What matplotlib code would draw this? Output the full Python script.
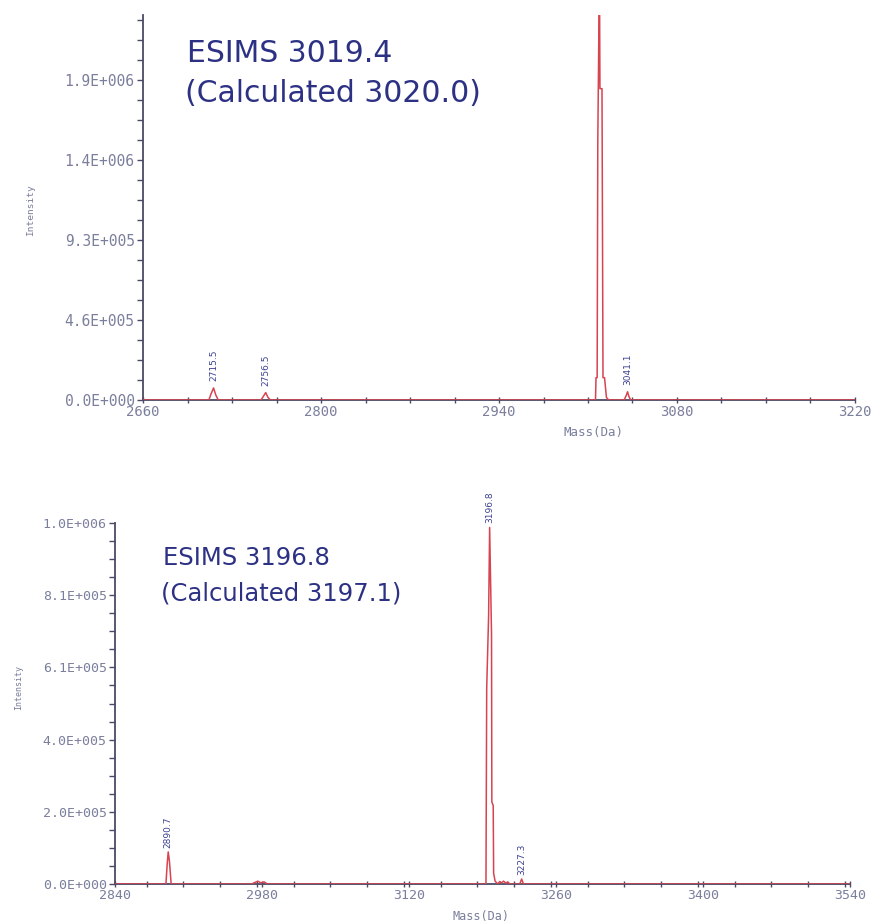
import matplotlib
matplotlib.use("Agg")
import matplotlib.pyplot as plt
from matplotlib.ticker import FixedLocator, MultipleLocator

# ---------------- data ----------------
# top spectrum (mass in Da, intensity in counts) – trace vertices
top_mass = [2660, 2711.8, 2713.5, 2715.5, 2717.2, 2719.2,
            2752.8, 2754.6, 2756.5, 2758.3, 2760.2,
            3015.9, 3016.3, 3017.2, 3017.7, 3019.0, 3019.4, 3021.0, 3021.8, 3023.0, 3024.5, 3026.2,
            3038.4, 3040.0, 3041.1, 3042.2, 3043.6, 3220]
top_intensity = [0, 0, 3.5e4, 7.0e4, 3.0e4, 0,
                 0, 2.0e4, 4.3e4, 1.5e4, 0,
                 0, 1.3e5, 1.3e5, 1.5e6, 2.5e6, 1.81e6, 1.81e6, 1.3e5, 1.3e5, 1.5e4, 0,
                 0, 2.5e4, 4.8e4, 2.0e4, 0, 0]
top_peak_labels = ["2715.5", "2756.5", "3041.1"]
top_xticks = [2660, 2800, 2940, 3080, 3220]
top_yticks = [0, 4.65e5, 9.3e5, 1.395e6, 1.86e6]
top_ytick_labels = ["0.0E+000", "4.6E+005", "9.3E+005", "1.4E+006", "1.9E+006"]
top_title = ["ESIMS 3019.4", "(Calculated 3020.0)"]

# bottom spectrum
bottom_mass = [2840, 2888.5, 2889.8, 2890.7, 2891.8, 2893.5,
               2970, 2973, 2976, 2979, 2982, 2985,
               3193.3, 3194.0, 3195.8, 3196.8, 3198.6, 3198.9, 3200.2, 3200.6, 3202.0,
               3204.5, 3206.5, 3208.0, 3210.0, 3212.5, 3214.0, 3216.0,
               3225.5, 3227.3, 3229.0, 3540]
bottom_intensity = [0, 0, 6.0e4, 9.0e4, 6.5e4, 0,
                    0, 4e3, 8e3, 3e3, 6e3, 0,
                    0, 5.5e5, 7.5e5, 1.0e6, 7.0e5, 2.3e5, 2.2e5, 3.0e4, 8e3,
                    0, 7e3, 3e3, 8e3, 2e3, 6e3, 0,
                    0, 1.4e4, 0, 0]
bottom_peak_labels = ["2890.7", "3196.8", "3227.3"]
bottom_xticks = [2840, 2980, 3120, 3260, 3400, 3540]
bottom_yticks = [0, 2.025e5, 4.05e5, 6.075e5, 8.1e5, 1.0125e6]
bottom_ytick_labels = ["0.0E+000", "2.0E+005", "4.0E+005", "6.1E+005", "8.1E+005", "1.0E+006"]
bottom_title = ["ESIMS 3196.8", "(Calculated 3197.1)"]

x_label = "Mass(Da)"
y_label = "Intensity"

# ---------------- style ----------------
W, H = 873, 922
fig = plt.figure(figsize=(W / 100, H / 100), dpi=100)
fig.patch.set_facecolor("white")

def fx(px):
    return px / W

def fy(py):
    return 1 - py / H

AX_COL = "#4a4a66"
TICK_TXT = "#7a7f9c"
RED = "#d8434f"
NAVY = "#2c3183"
LBL = "#3d4290"


def style_axes(ax, xlim, ylim, xticks, yticks, ylabels, xminor, ylabelsize, xlabelsize):
    ax.set_xlim(*xlim)
    ax.set_ylim(*ylim)
    for s in ("top", "right"):
        ax.spines[s].set_visible(False)
    for s in ("left", "bottom"):
        ax.spines[s].set_color(AX_COL)
        ax.spines[s].set_linewidth(1.3)
    ax.xaxis.set_major_locator(FixedLocator(xticks))
    ax.xaxis.set_minor_locator(MultipleLocator(xminor))
    ax.yaxis.set_major_locator(FixedLocator(yticks))
    ax.set_yticklabels(ylabels)
    ax.yaxis.set_minor_locator(MultipleLocator(yticks[1] / 4))
    ax.set_xticklabels([str(t) for t in xticks])
    ax.tick_params(axis="y", which="both", length=4, width=1, color=AX_COL,
                   labelsize=ylabelsize, labelcolor=TICK_TXT, pad=2)
    ax.tick_params(axis="x", which="both", direction="inout", length=5, width=1,
                   color=AX_COL, labelsize=xlabelsize, labelcolor=TICK_TXT, pad=1)
    for t in ax.get_yticklabels() + ax.get_xticklabels():
        t.set_family("DejaVu Sans Mono")
    ax.set_facecolor("white")


def label_peaks(ax, mass, inten, labels, offset):
    for lab in labels:
        m = float(lab)
        h = max(i for x, i in zip(mass, inten) if abs(x - m) <= 3.0)
        ax.annotate(lab, xy=(m, h), xytext=(0, offset), textcoords="offset points",
                    rotation=90, ha="center", va="bottom", fontsize=6.5,
                    color=LBL, family="DejaVu Sans")


# top panel
ax1 = fig.add_axes([fx(143), fy(400), fx(855) - fx(143), fy(15) - fy(400)])
style_axes(ax1, (2660, 3220), (0, 2.238e6), top_xticks, top_yticks, top_ytick_labels,
           35, 10.5, 10)
ax1.plot(top_mass, top_intensity, color=RED, lw=1.1, zorder=5)
label_peaks(ax1, top_mass, top_intensity, top_peak_labels, 5)

fig.text(fx(187), fy(62), top_title[0], fontsize=21.5, color=NAVY, va="baseline", ha="left")
fig.text(fx(185), fy(102), top_title[1], fontsize=21.5, color=NAVY, va="baseline", ha="left")
fig.text(fx(594), fy(432), x_label, fontsize=9, color=TICK_TXT, ha="center", va="center",
         family="DejaVu Sans Mono")
fig.text(fx(31), fy(210), y_label, fontsize=6.8, color=TICK_TXT, ha="center", va="center",
         rotation=90, family="DejaVu Sans Mono")

# bottom panel
ax2 = fig.add_axes([fx(115), fy(884), fx(850) - fx(115), fy(523) - fy(884)])
style_axes(ax2, (2840, 3540), (0, 1.0125e6), bottom_xticks, bottom_yticks, bottom_ytick_labels,
           35, 9.5, 9.5)
ax2.plot(bottom_mass, bottom_intensity, color=RED, lw=1.1, zorder=5)
label_peaks(ax2, bottom_mass, bottom_intensity, bottom_peak_labels, 3)

fig.text(fx(163), fy(565), bottom_title[0], fontsize=17.5, color=NAVY, va="baseline", ha="left")
fig.text(fx(161), fy(600), bottom_title[1], fontsize=17.5, color=NAVY, va="baseline", ha="left")
fig.text(fx(481), fy(916), x_label, fontsize=8.5, color=TICK_TXT, ha="center", va="center",
         family="DejaVu Sans Mono")
fig.text(fx(19), fy(688), y_label, fontsize=6, color=TICK_TXT, ha="center", va="center",
         rotation=90, family="DejaVu Sans Mono")

fig.savefig("out.png", dpi=100, facecolor="white")
